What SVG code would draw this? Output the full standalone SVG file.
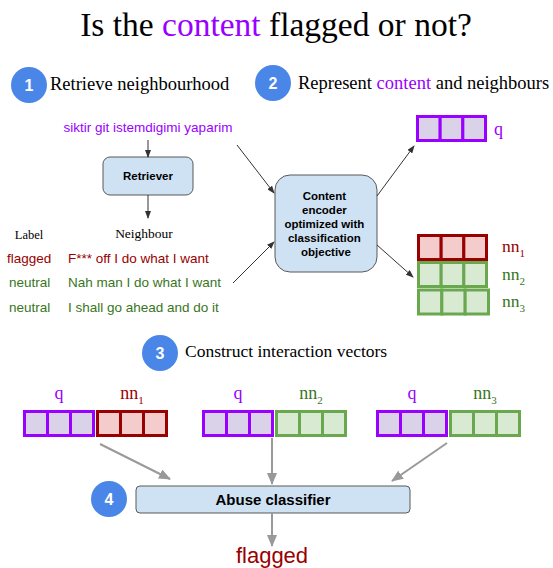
<svg xmlns="http://www.w3.org/2000/svg" width="553" height="568" viewBox="0 0 553 568">
<style>
.serif{font-family:"Liberation Serif","Times New Roman",serif;}
.sans{font-family:"Liberation Sans",Arial,sans-serif;}
.step{fill:#4a86e8;}
.stepnum{font-family:"Liberation Sans",Arial,sans-serif;font-weight:bold;font-size:16px;fill:#ffffff;text-anchor:middle;}
.box{fill:#cfe2f3;stroke:#595959;stroke-width:1;}
.boxtxt{font-family:"Liberation Sans",Arial,sans-serif;font-weight:bold;fill:#000;text-anchor:middle;}
.vq{fill:#d9d2e9;stroke:#9900ff;stroke-width:3;}
.vr{fill:#f4cccc;stroke:#990000;stroke-width:3;}
.vg{fill:#d9ead3;stroke:#6aa84f;stroke-width:3;}
.purple{fill:#9900ff;}
.red{fill:#990000;}
.green{fill:#38761d;}
.thin{stroke:#333;stroke-width:1;fill:none;}
.gray{stroke:#999999;stroke-width:2;fill:none;}
.vlab{font-family:"Liberation Serif","Times New Roman",serif;font-size:18px;text-anchor:middle;}
</style>
<defs>
<marker id="ah" markerWidth="8" markerHeight="6" refX="7" refY="3" orient="auto" markerUnits="userSpaceOnUse">
<path d="M0,0 L8,3 L0,6 z" fill="#333"/>
</marker>
<marker id="ag" markerWidth="12" markerHeight="10" refX="11" refY="5" orient="auto" markerUnits="userSpaceOnUse">
<path d="M0,0 L12,5 L0,10 z" fill="#999999"/>
</marker>
</defs>
<rect width="553" height="568" fill="#ffffff"/>

<text id="title" class="serif" x="276" y="36" text-anchor="middle" font-size="33.5" fill="#000">Is the <tspan class="purple">content</tspan> flagged or not?</text>

<g id="step1">
<circle class="step" cx="29" cy="85" r="18"/>
<text class="stepnum" x="29" y="91">1</text>
<text class="serif" x="50" y="90" font-size="18.5" fill="#000">Retrieve neighbourhood</text>
</g>
<g id="step2">
<circle class="step" cx="273" cy="83" r="18"/>
<text class="stepnum" x="273" y="89">2</text>
<text class="serif" x="298" y="89" font-size="18.5" fill="#000">Represent <tspan class="purple">content</tspan> and neighbours</text>
</g>
<g id="step3">
<circle class="step" cx="160" cy="353" r="18"/>
<text class="stepnum" x="160" y="359">3</text>
<text class="serif" x="185" y="357" font-size="17.5" fill="#000">Construct interaction vectors</text>
</g>
<g id="step4">
<circle class="step" cx="109" cy="499" r="18"/>
<text class="stepnum" x="109" y="505">4</text>
</g>

<g id="query">
<text class="sans purple" x="148" y="132" font-size="13.5" text-anchor="middle">siktir git istemdigimi yaparim</text>
</g>

<g id="retriever">
<rect class="box" x="103" y="157" width="90" height="38" rx="7"/>
<text class="boxtxt" x="148" y="180" font-size="11.5">Retriever</text>
</g>

<g id="neighbours">
<text class="serif" x="29" y="239" font-size="12.5" text-anchor="middle" fill="#000">Label</text>
<text class="serif" x="144" y="238" font-size="13.5" text-anchor="middle" fill="#000">Neighbour</text>
<text class="sans red" x="7" y="263" font-size="13.5">flagged</text>
<text class="sans red" x="68" y="263" font-size="13.5">F*** off I do what I want</text>
<text class="sans green" x="9" y="287" font-size="13.5">neutral</text>
<text class="sans green" x="68" y="287" font-size="13.5">Nah man I do what I want</text>
<text class="sans green" x="9" y="312" font-size="13.5">neutral</text>
<text class="sans green" x="68" y="312" font-size="13.5">I shall go ahead and do it</text>
</g>

<g id="encoder">
<rect class="box" x="275" y="175" width="102" height="97" rx="15"/>
<text class="boxtxt" font-size="11.5">
<tspan x="326" y="200">Content</tspan>
<tspan x="326" y="214">encoder</tspan>
<tspan x="326" y="228">optimized with</tspan>
<tspan x="326" y="242">classification</tspan>
<tspan x="326" y="256">objective</tspan>
</text>
</g>

<g id="vec-q">
<rect class="vq" x="417.5" y="116.5" width="22.67" height="24"/>
<rect class="vq" x="440.17" y="116.5" width="22.67" height="24"/>
<rect class="vq" x="462.83" y="116.5" width="22.67" height="24"/>
<text class="serif purple" x="494" y="135" font-size="18">q</text>
</g>
<g id="vec-nn1">
<rect class="vr" x="418.5" y="235.5" width="22.67" height="24"/>
<rect class="vr" x="441.17" y="235.5" width="22.67" height="24"/>
<rect class="vr" x="463.83" y="235.5" width="22.67" height="24"/>
<text class="serif red" x="502" y="252" font-size="17.5">nn<tspan font-size="11" dy="5">1</tspan></text>
</g>
<g id="vec-nn2">
<rect class="vg" x="418.5" y="262.5" width="22.67" height="24"/>
<rect class="vg" x="441.17" y="262.5" width="22.67" height="24"/>
<rect class="vg" x="463.83" y="262.5" width="22.67" height="24"/>
<text class="serif green" x="502" y="280" font-size="17.5">nn<tspan font-size="11" dy="5">2</tspan></text>
</g>
<g id="vec-nn3">
<rect class="vg" x="418.5" y="290" width="23.33" height="24"/>
<rect class="vg" x="441.83" y="290" width="23.33" height="24"/>
<rect class="vg" x="465.17" y="290" width="23.33" height="24"/>
<text class="serif green" x="502" y="307" font-size="17.5">nn<tspan font-size="11" dy="5">3</tspan></text>
</g>

<g id="pair1">
<rect class="vq" x="24.5" y="411.5" width="23" height="24"/>
<rect class="vq" x="47.5" y="411.5" width="23" height="24"/>
<rect class="vq" x="70.5" y="411.5" width="23" height="24"/>
<rect class="vr" x="97.5" y="411.5" width="23" height="24"/>
<rect class="vr" x="120.5" y="411.5" width="23" height="24"/>
<rect class="vr" x="143.5" y="411.5" width="23" height="24"/>
<text class="vlab purple" x="59" y="399">q</text>
<text class="vlab red" x="132" y="399">nn<tspan font-size="11" dy="5">1</tspan></text>
</g>
<g id="pair2">
<rect class="vq" x="203.5" y="411.5" width="23" height="24"/>
<rect class="vq" x="226.5" y="411.5" width="23" height="24"/>
<rect class="vq" x="249.5" y="411.5" width="23" height="24"/>
<rect class="vg" x="276.5" y="411.5" width="23" height="24"/>
<rect class="vg" x="299.5" y="411.5" width="23" height="24"/>
<rect class="vg" x="322.5" y="411.5" width="23" height="24"/>
<text class="vlab purple" x="238" y="399">q</text>
<text class="vlab green" x="311" y="399">nn<tspan font-size="11" dy="5">2</tspan></text>
</g>
<g id="pair3">
<rect class="vq" x="377.5" y="411.5" width="23" height="24"/>
<rect class="vq" x="400.5" y="411.5" width="23" height="24"/>
<rect class="vq" x="423.5" y="411.5" width="23" height="24"/>
<rect class="vg" x="450.5" y="411.5" width="23" height="24"/>
<rect class="vg" x="473.5" y="411.5" width="23" height="24"/>
<rect class="vg" x="496.5" y="411.5" width="23" height="24"/>
<text class="vlab purple" x="412" y="399">q</text>
<text class="vlab green" x="485" y="399">nn<tspan font-size="11" dy="5">3</tspan></text>
</g>

<g id="classifier">
<rect class="box" x="136" y="486" width="274" height="27" rx="4"/>
<text class="boxtxt" x="273" y="505" font-size="15">Abuse classifier</text>
</g>

<g id="output">
<text class="sans red" x="272" y="563" font-size="22" text-anchor="middle">flagged</text>
</g>

<g id="connectors">
<line class="thin" x1="148" y1="140" x2="148" y2="157" marker-end="url(#ah)"/>
<line class="thin" x1="148" y1="195" x2="148" y2="218" marker-end="url(#ah)"/>
<line class="thin" x1="237" y1="145" x2="274" y2="193" marker-end="url(#ah)"/>
<line class="thin" x1="233" y1="283" x2="274" y2="242" marker-end="url(#ah)"/>
<line class="thin" x1="377" y1="196" x2="414" y2="146" marker-end="url(#ah)"/>
<line class="thin" x1="377" y1="245" x2="413" y2="277" marker-end="url(#ah)"/>
<line class="gray" x1="100" y1="444" x2="170" y2="479" marker-end="url(#ag)"/>
<line class="gray" x1="272" y1="438" x2="272" y2="484" marker-end="url(#ag)"/>
<line class="gray" x1="447" y1="443" x2="392" y2="481" marker-end="url(#ag)"/>
<line class="gray" x1="272" y1="513" x2="272" y2="546" marker-end="url(#ag)"/>
</g>
</svg>
